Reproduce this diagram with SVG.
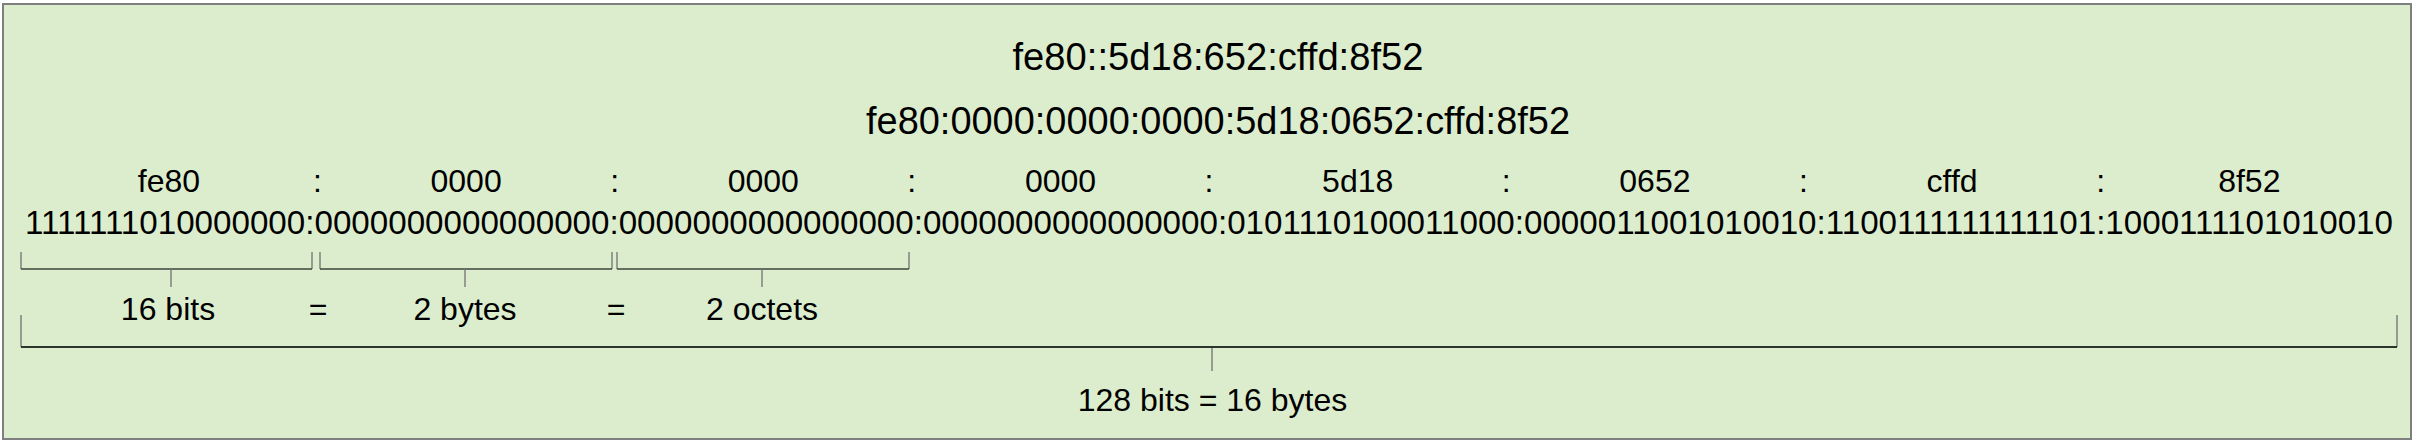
<svg xmlns="http://www.w3.org/2000/svg" width="2416" height="445" viewBox="0 0 2416 445">
<style>
text{font-family:"Liberation Sans",Arial,sans-serif;fill:#000;text-anchor:middle}
.t{font-size:38px}
.h{font-size:32px}
.b{font-size:33px;text-anchor:start}
.l{font-size:32px}
.br{fill:none;stroke:#3c463c;stroke-width:1.6}
.tk{fill:none;stroke:#7a7a7a;stroke-width:1.4}
.big{fill:none;stroke:#2c342c;stroke-width:2}
</style>
<rect x="0" y="0" width="2416" height="445" fill="#ffffff"/>
<rect id="frame" x="3" y="4" width="2408" height="435" fill="#dcedcd" stroke="#7f7f7f" stroke-width="2"/>
<g id="compressed"><text class="t" x="1218" y="70" textLength="411" lengthAdjust="spacingAndGlyphs">fe80::5d18:652:cffd:8f52</text></g>
<g id="expanded"><text class="t" x="1218" y="134" textLength="704" lengthAdjust="spacingAndGlyphs">fe80:0000:0000:0000:5d18:0652:cffd:8f52</text></g>
<g id="hex">
<text class="h" x="168.9" y="192">fe80</text>
<text class="h" x="317.4" y="192">:</text>
<text class="h" x="466.1" y="192">0000</text>
<text class="h" x="614.6" y="192">:</text>
<text class="h" x="763.3" y="192">0000</text>
<text class="h" x="911.8" y="192">:</text>
<text class="h" x="1060.5" y="192">0000</text>
<text class="h" x="1209" y="192">:</text>
<text class="h" x="1357.7" y="192">5d18</text>
<text class="h" x="1506.2" y="192">:</text>
<text class="h" x="1654.9" y="192">0652</text>
<text class="h" x="1803.4" y="192">:</text>
<text class="h" x="1952.1" y="192">cffd</text>
<text class="h" x="2100.6" y="192">:</text>
<text class="h" x="2249.3" y="192">8f52</text>
</g>
<g id="binary">
<text class="b" x="25" y="234" textLength="2368" lengthAdjust="spacingAndGlyphs">1111111010000000:0000000000000000:0000000000000000:0000000000000000:0101110100011000:0000011001010010:1100111111111101:1000111101010010</text>
</g>
<g id="connectors">
<path class="tk" d="M21 252V269M312 252V269M320 252V269M612 252V269M617 252V269M909 252V269"/>
<path class="br" d="M21 269H312M320 269H612M617 269H909"/>
<path class="tk" d="M171 269V287M465 269V287M762 269V287"/>
<path class="tk" d="M21 315V347M2397 315V347M1212 347V371"/>
<path class="big" d="M21 347H2397"/>
</g>
<g id="units">
<text class="l" x="168" y="320">16 bits</text>
<text class="l" x="318" y="320">=</text>
<text class="l" x="465" y="320">2 bytes</text>
<text class="l" x="616" y="320">=</text>
<text class="l" x="762" y="320">2 octets</text>
</g>
<g id="total"><text class="l" x="1212.5" y="411">128 bits = 16 bytes</text></g>
</svg>
